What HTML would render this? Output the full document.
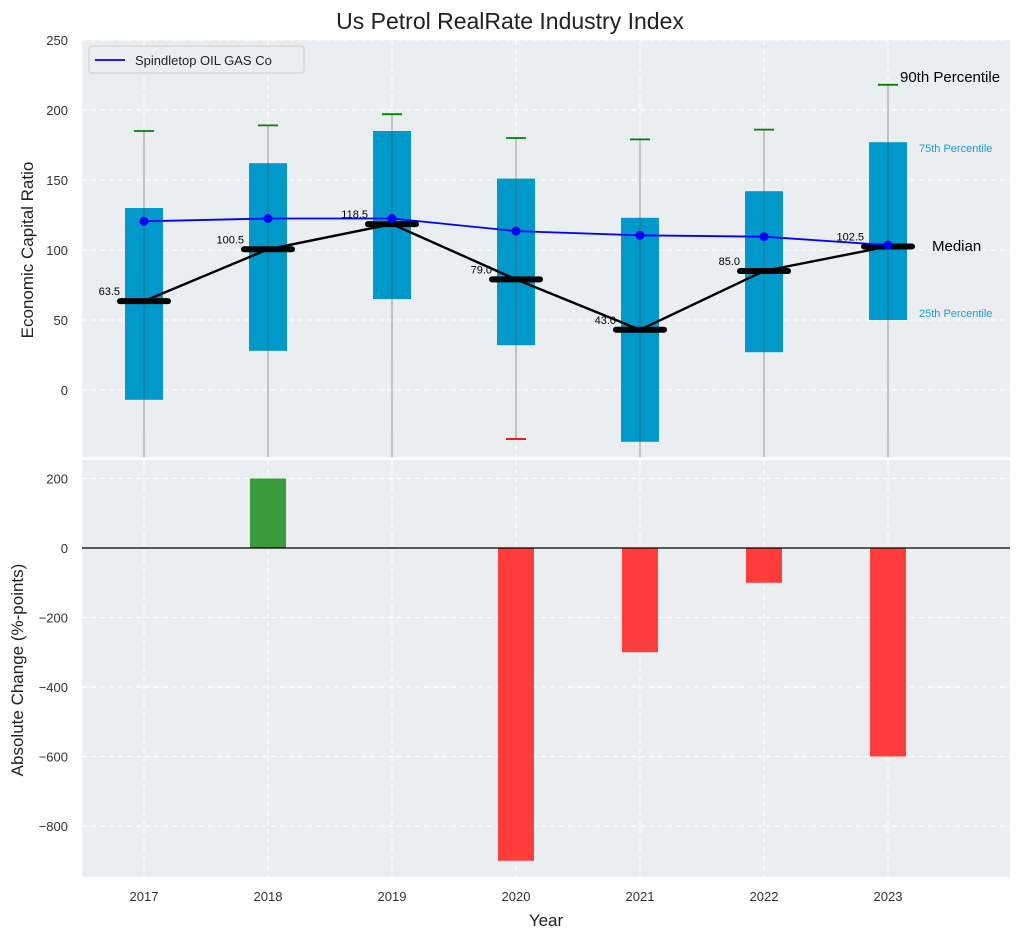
<!DOCTYPE html>
<html><head><meta charset="utf-8">
<style>
body{margin:0;background:#fff;}
svg text{font-family:"Liberation Sans",Arial,sans-serif;}
</style></head>
<body>
<svg id="chart" width="1021" height="940" xmlns="http://www.w3.org/2000/svg">
<rect x="0" y="0" width="1021" height="940" fill="#ffffff"/>
<rect x="82" y="40" width="928" height="417" fill="#eaeef0"/>
<rect x="82" y="460" width="928" height="417" fill="#eaeef0"/>
<g id="topG"></g>
<g id="botG"></g>
<g id="overlay"></g>
<text x="510" y="29" text-anchor="middle" font-size="23" fill="#222">Us Petrol RealRate Industry Index</text>
<text x="33" y="250" text-anchor="middle" font-size="17" fill="#222" transform="rotate(-90 33 250)">Economic Capital Ratio</text>
<text x="23" y="670" text-anchor="middle" font-size="17" fill="#222" transform="rotate(-90 23 670)">Absolute Change (%-points)</text>
<text x="546" y="926" text-anchor="middle" font-size="17" fill="#222">Year</text>
<g>
<rect x="89" y="46" width="215" height="27" rx="3" fill="#eaeef0" stroke="#ccc"/>
<line x1="95" y1="60" x2="125" y2="60" stroke="#0000ff" stroke-width="1.8"/>
<text x="135" y="65" font-size="13" fill="#222">Spindletop OIL GAS Co</text>
</g>
<text x="900" y="82" font-size="15" fill="#000">90th Percentile</text>
<text x="919" y="152" font-size="11" fill="#1a9fd0">75th Percentile</text>
<text x="932" y="251" font-size="15" fill="#000">Median</text>
<text x="919" y="317" font-size="11" fill="#1a9fd0">25th Percentile</text>
</svg>
<script>
const years=[2017,2018,2019,2020,2021,2022,2023];
const q1=[-7,28,65,32,-37,27,50];
const q3=[130,162,185,151,123,142,177];
const medians=[63.5,100.5,118.5,79.0,43.0,85.0,102.5];
const p90=[185,189,197,180,179,186,218];
const p10=[-60,-60,-60,-35,-60,-60,-60];
const company=[120.5,122.5,122.5,113.5,110.5,109.5,103.5];
const changes=[0,200,0,-900,-300,-100,-600];
const topTicks=[0,50,100,150,200,250];
const botTicks=[-800,-600,-400,-200,0,200];

const NS="http://www.w3.org/2000/svg";
const X0=82,X1=1010;
const xs=v=>144+(v-2017)*124;
const yt=v=>390-v*1.4;
const yb=v=>548-v*0.3475;
function mk(p,tag,a){const e=document.createElementNS(NS,tag);for(const k in a)e.setAttribute(k,a[k]);p.appendChild(e);return e;}
const topG=document.getElementById('topG'),botG=document.getElementById('botG');
const ov=document.getElementById('overlay');
const svgEl=document.getElementById('chart');
const defs=mk(svgEl,'defs',{});
const clip=mk(defs,'clipPath',{id:'ct'});mk(clip,'rect',{x:82,y:40,width:928,height:417});
topG.setAttribute('clip-path','url(#ct)');

topTicks.forEach(t=>{
  const l=mk(topG,'line',{x1:X0,x2:X1,y1:yt(t),y2:yt(t),stroke:'#fff','stroke-dasharray':'5,4','stroke-width':1});
  
  
  const tx=mk(ov,'text',{x:68,y:yt(t)+5,'text-anchor':'end','font-size':13,fill:'#333'});tx.textContent=t;
  
  
});
botTicks.forEach(t=>{
  const l=mk(botG,'line',{x1:X0,x2:X1,y1:yb(t),y2:yb(t),stroke:'#fff','stroke-dasharray':'5,4','stroke-width':1});
  
  
  const tx=mk(ov,'text',{x:68,y:yb(t)+5,'text-anchor':'end','font-size':13,fill:'#333'});tx.textContent=(t<0?'\u2212'+(-t):t);
  
  
});
years.forEach(y=>{
  [[topG,40,457],[botG,460,877]].forEach(([g,a,b])=>{
    const l=mk(g,'line',{x1:xs(y),x2:xs(y),y1:a,y2:b,stroke:'#fff','stroke-dasharray':'5,4'});
    
    
  });
  const tx=mk(ov,'text',{x:xs(y),y:901,'text-anchor':'middle','font-size':13,fill:'#333'});tx.textContent=y;
  
  
});

years.forEach((y,i)=>{
  const cx=xs(y),w=38;
  const r=mk(topG,'rect',{x:cx-w/2,y:yt(q3[i]),width:w,height:yt(q1[i])-yt(q3[i]),fill:'#0099cc'});
  
  
  const wl=mk(topG,'line',{x1:cx,x2:cx,y1:yt(p90[i]),y2:yt(p10[i]),stroke:'#555','stroke-opacity':0.6,'stroke-width':1});
  
  
  const c=mk(topG,'line',{x1:cx-10,x2:cx+10,y1:yt(p90[i]),y2:yt(p90[i]),stroke:'#008000','stroke-width':1.8});
  
  
  if(p10[i]>-48){const c2=mk(topG,'line',{x1:cx-10,x2:cx+10,y1:yt(p10[i]),y2:yt(p10[i]),stroke:'#e00000','stroke-width':1.8});
    
    }
});
const mp=mk(topG,'polyline',{points:years.map((y,i)=>xs(y)+','+yt(medians[i])).join(' '),fill:'none',stroke:'#000','stroke-width':2.4});


years.forEach((y,i)=>{
  const cx=xs(y);
  const m=mk(topG,'line',{x1:cx-24,x2:cx+24,y1:yt(medians[i]),y2:yt(medians[i]),stroke:'#000','stroke-width':6,'stroke-linecap':'round'});
  
  
  const t=mk(ov,'text',{x:cx-24,y:yt(medians[i])-6,'text-anchor':'end','font-size':11,fill:'#000'});t.textContent=medians[i].toFixed(1);
  
  
});
const cl=mk(topG,'polyline',{points:years.map((y,i)=>xs(y)+','+yt(company[i])).join(' '),fill:'none',stroke:'#0000ff','stroke-width':1.8});


years.forEach((y,i)=>{
  const p=mk(topG,'circle',{cx:xs(y),cy:yt(company[i]),r:4.5,fill:'#0000ff'});
  
  
});
years.forEach((y,i)=>{
  const v=changes[i]; if(v===0)return;
  const r=mk(botG,'rect',{x:xs(y)-18,y:Math.min(yb(v),yb(0)),width:36,height:Math.abs(yb(v)-yb(0)),fill:v>0?'#3a9a3c':'#ff3c3c'});
  
  
});
const z=mk(botG,'line',{x1:X0,x2:X1,y1:yb(0),y2:yb(0),stroke:'#000','stroke-width':1.2});


</script>
</body></html>
